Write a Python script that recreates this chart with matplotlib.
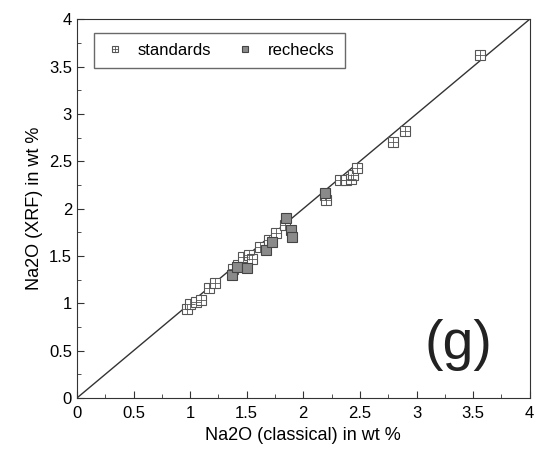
import matplotlib
matplotlib.use("Agg")
import matplotlib.pyplot as plt
from matplotlib.ticker import MultipleLocator

plt.rcParams['font.family'] = ['Liberation Sans', 'DejaVu Sans']

# standards: classical vs XRF
std_x = [0.97, 1.00, 1.05, 1.10, 1.17, 1.22, 1.38, 1.42, 1.47, 1.52, 1.55,
         1.62, 1.70, 1.76, 1.84, 2.19, 2.20, 2.32, 2.38, 2.42, 2.44, 2.47,
         2.79, 2.90, 3.56]
std_y = [0.94, 0.99, 1.01, 1.04, 1.16, 1.21, 1.36, 1.41, 1.49, 1.51, 1.47,
         1.60, 1.67, 1.74, 1.83, 2.14, 2.09, 2.30, 2.30, 2.31, 2.36, 2.43,
         2.70, 2.82, 3.62]

# rechecks
rc_x = [1.37, 1.41, 1.50, 1.67, 1.72, 1.85, 1.89, 1.90, 2.19]
rc_y = [1.30, 1.38, 1.37, 1.56, 1.65, 1.90, 1.77, 1.70, 2.16]

fig = plt.figure(figsize=(5.34, 4.57), dpi=100)
ax = fig.add_axes([0.144, 0.129, 0.848, 0.829])

ax.plot([0, 4], [0, 4], color='#333333', lw=1.0, zorder=1)

ax.plot(std_x, std_y, ls='none', marker='s', ms=6.5, mfc='white',
        mec='#555555', mew=0.8, zorder=2)
ax.plot(std_x, std_y, ls='none', marker='+', ms=6.5, mec='#555555',
        mew=0.6, zorder=3)
ax.plot(rc_x, rc_y, ls='none', marker='s', ms=6.5, mfc='#8a8a8a',
        mec='#444444', mew=0.8, zorder=4)

# legend handles (square + cross for standards)
h_sq = ax.plot([], [], ls='none', marker='s', ms=5, mfc='white',
               mec='#555555', mew=0.8)[0]
h_pl = ax.plot([], [], ls='none', marker='+', ms=5, mec='#555555',
               mew=0.6)[0]
h_rc = ax.plot([], [], ls='none', marker='s', ms=5, mfc='#8a8a8a',
               mec='#444444', mew=0.8)[0]
leg = ax.legend([(h_sq, h_pl), h_rc], ['standards', 'rechecks'],
                loc='upper left', ncol=2, fontsize=12, frameon=True,
                fancybox=False, edgecolor='#444444', handlelength=1.3,
                handletextpad=0.7, columnspacing=1.4,
                bbox_to_anchor=(0.02, 0.985), borderpad=0.6)
leg.get_frame().set_linewidth(1.0)

ax.text(3.37, 0.56, '(g)', fontsize=40, ha='center', va='center',
        color='#222222')

ax.set_xlim(0, 4)
ax.set_ylim(0, 4)
ax.xaxis.set_major_locator(MultipleLocator(0.5))
ax.yaxis.set_major_locator(MultipleLocator(0.5))
ax.xaxis.set_minor_locator(MultipleLocator(0.25))
ax.yaxis.set_minor_locator(MultipleLocator(0.25))
ax.xaxis.set_major_formatter(plt.FuncFormatter(lambda v, p: f'{v:g}'))
ax.yaxis.set_major_formatter(plt.FuncFormatter(lambda v, p: f'{v:g}'))
ax.tick_params(which='both', direction='in', labelsize=12, color='#333333')
ax.tick_params(which='major', length=5)
ax.tick_params(which='minor', length=3)
ax.tick_params(axis='x', pad=6)
for s in ax.spines.values():
    s.set_color('#333333')

ax.set_xlabel('Na2O (classical) in wt %', fontsize=13)
ax.set_ylabel('Na2O (XRF) in wt %', fontsize=13)

fig.savefig('out.png', dpi=100)
